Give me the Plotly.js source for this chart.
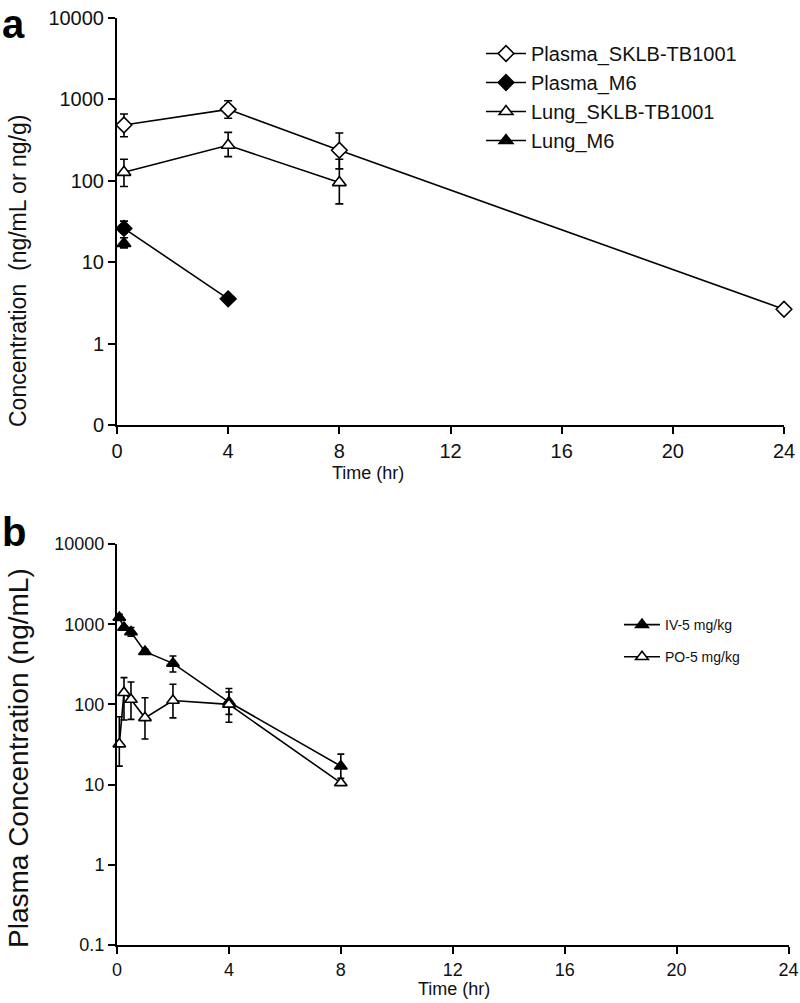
<!DOCTYPE html>
<html><head><meta charset="utf-8">
<script src="https://cdn.plot.ly/plotly-3.0.1.min.js"></script>
<style>html,body{margin:0;padding:0;background:#fff}#chart{width:800px;height:1003px}</style>
</head><body><div id="chart"></div>
<script>
// ---------- Panel a data ----------
const timeA = [0.25, 4, 8, 24];
const plasmaSKLB = [485, 755, 237, 2.64];
const plasmaSKLBErrUp = [176, 209, 149, 0];
const plasmaSKLBErrDn = [137, 169, 97, 0];

const timeLungSKLB = [0.25, 4, 8];
const lungSKLB = [127, 273, 95];
const lungSKLBErrUp = [57, 121, 89];
const lungSKLBErrDn = [42, 75, 43];

const timePlasmaM6 = [0.25, 4];
const plasmaM6 = [26, 3.55];
const plasmaM6ErrUp = [6, 0];
const plasmaM6ErrDn = [3, 0];

const timeLungM6 = [0.25];
const lungM6 = [17];
const lungM6ErrUp = [3];
const lungM6ErrDn = [2];

// ---------- Panel b data ----------
const timeB = [0.083, 0.25, 0.5, 1, 2, 4, 8];
const ivConc = [1210, 910, 800, 455, 325, 107, 17];
const ivErrUp = [120, 40, 110, 30, 77, 51, 7];
const ivErrDn = [100, 35, 90, 25, 72, 32, 5];
const poConc = [32, 140, 115, 68, 112, 100, 10.5];
const poErrUp = [38, 76, 75, 53, 66, 43, 0];
const poErrDn = [15, 76, 50, 31, 44, 40, 0];

// ---------- Axis ticks ----------
const xTicks = [0, 4, 8, 12, 16, 20, 24];
const yTickValsA = [0.1, 1, 10, 100, 1000, 10000];
const yTickTextA = ['0', '1', '10', '100', '1000', '10000'];
const yTickValsB = [0.1, 1, 10, 100, 1000, 10000];
const yTickTextB = ['0.1', '1', '10', '100', '1000', '10000'];

const FONT = 'Liberation Sans, Arial, Helvetica, sans-serif';

function errs(up, dn, w) {
  return {type: 'data', symmetric: false, array: up, arrayminus: dn,
          color: '#000', thickness: 1.6, width: w, visible: true};
}
function trace(name, x, y, up, dn, symbol, fill, xa, ya, leg, size, capw) {
  return {
    type: 'scatter', mode: 'lines+markers', name: name, x: x, y: y,
    xaxis: xa, yaxis: ya, legend: leg, legendgroup: name,
    line: {color: '#000', width: 1.6},
    marker: {symbol: symbol, size: size, color: fill, line: {color: '#000', width: 1.6}},
    error_y: errs(up, dn, capw),
    cliponaxis: false
  };
}

const data = [
  trace('Plasma_SKLB-TB1001', timeA, plasmaSKLB, plasmaSKLBErrUp, plasmaSKLBErrDn, 'diamond', '#fff', 'x', 'y', 'legend', 12, 4),
  trace('Plasma_M6', timePlasmaM6, plasmaM6, plasmaM6ErrUp, plasmaM6ErrDn, 'diamond', '#000', 'x', 'y', 'legend', 12, 4),
  trace('Lung_SKLB-TB1001', timeLungSKLB, lungSKLB, lungSKLBErrUp, lungSKLBErrDn, 'triangle-up', '#fff', 'x', 'y', 'legend', 12, 4),
  trace('Lung_M6', timeLungM6, lungM6, lungM6ErrUp, lungM6ErrDn, 'triangle-up', '#000', 'x', 'y', 'legend', 12, 4),
  trace('IV-5 mg/kg', timeB, ivConc, ivErrUp, ivErrDn, 'triangle-up', '#000', 'x2', 'y2', 'legend2', 11, 3.5),
  trace('PO-5 mg/kg', timeB, poConc, poErrUp, poErrDn, 'triangle-up', '#fff', 'x2', 'y2', 'legend2', 11, 3.5)
];

const W = 800, H = 1003;
const px = v => v / W;
const py = v => 1 - v / H;

function xAxis(domain, anchor, fs) {
  return {
    domain: domain, anchor: anchor, range: [0, 24], tickmode: 'array', tickvals: xTicks,
    showgrid: false, zeroline: false, showline: true, linecolor: '#000', linewidth: 2,
    ticks: 'outside', ticklen: 7, tickwidth: 2, tickcolor: '#000',
    tickfont: {family: FONT, size: fs, color: '#111'}, fixedrange: true
  };
}
function yAxis(domain, anchor, vals, txt, fs) {
  return {
    domain: domain, anchor: anchor, type: 'log', range: [-1, 4], tickmode: 'array',
    tickvals: vals, ticktext: txt,
    showgrid: false, zeroline: false, showline: true, linecolor: '#000', linewidth: 2,
    ticks: 'outside', ticklen: 7, tickwidth: 2, tickcolor: '#000',
    tickfont: {family: FONT, size: fs, color: '#111'}, fixedrange: true
  };
}

const layout = {
  width: W, height: H, margin: {l: 0, r: 0, t: 0, b: 0},
  paper_bgcolor: '#fff', plot_bgcolor: 'rgba(0,0,0,0)',
  font: {family: FONT, color: '#111'},
  xaxis: xAxis([px(117), px(784)], 'y', 20),
  yaxis: yAxis([py(425), py(18)], 'x', yTickValsA, yTickTextA, 20),
  xaxis2: xAxis([px(117), px(788.5)], 'y2', 18),
  yaxis2: yAxis([py(945), py(544)], 'x2', yTickValsB, yTickTextB, 18),
  legend: {
    x: px(481), y: py(34), xanchor: 'left', yanchor: 'top',
    font: {family: FONT, size: 20, color: '#111'}, bgcolor: 'rgba(0,0,0,0)',
    itemwidth: 40, tracegroupgap: 0, traceorder: 'grouped'
  },
  legend2: {
    x: px(619), y: py(609), xanchor: 'left', yanchor: 'top',
    font: {family: FONT, size: 14, color: '#111'}, bgcolor: 'rgba(0,0,0,0)',
    itemwidth: 36, tracegroupgap: 11, traceorder: 'grouped'
  },
  showlegend: true,
  annotations: [
    {text: '<b>a</b>', x: px(0), y: py(0), xref: 'paper', yref: 'paper', xanchor: 'left', yanchor: 'top',
     showarrow: false, font: {family: FONT, size: 40, color: '#000'}},
    {text: '<b>b</b>', x: px(0), y: py(508), xref: 'paper', yref: 'paper', xanchor: 'left', yanchor: 'top',
     showarrow: false, font: {family: FONT, size: 40, color: '#000'}},
    {text: 'Concentration  (ng/mL or ng/g)', x: px(18), y: py(271), xref: 'paper', yref: 'paper',
     xanchor: 'center', yanchor: 'middle', textangle: -90, showarrow: false,
     font: {family: FONT, size: 23, color: '#111'}},
    {text: 'Plasma Concentration (ng/mL)', x: px(18), y: py(758), xref: 'paper', yref: 'paper',
     xanchor: 'center', yanchor: 'middle', textangle: -90, showarrow: false,
     font: {family: FONT, size: 28, color: '#111'}},
    {text: 'Time (hr)', x: px(368), y: py(473), xref: 'paper', yref: 'paper',
     xanchor: 'center', yanchor: 'middle', showarrow: false,
     font: {family: FONT, size: 18, color: '#111'}},
    {text: 'Time (hr)', x: px(454), y: py(989), xref: 'paper', yref: 'paper',
     xanchor: 'center', yanchor: 'middle', showarrow: false,
     font: {family: FONT, size: 18, color: '#111'}}
  ]
};

Plotly.newPlot('chart', data, layout, {displayModeBar: false, staticPlot: true});
</script></body></html>
